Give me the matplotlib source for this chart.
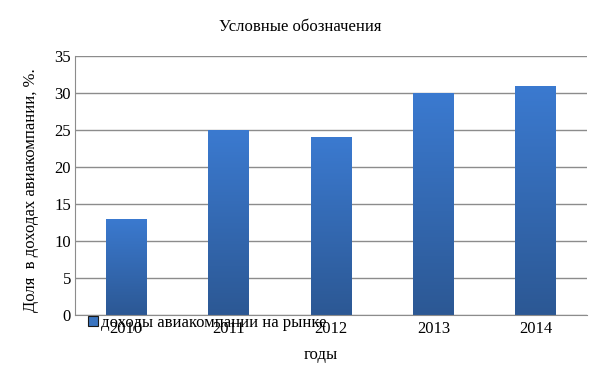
import matplotlib
matplotlib.use("Agg")
import matplotlib.pyplot as plt
import numpy as np
from matplotlib.colors import LinearSegmentedColormap
from matplotlib.patches import Rectangle

years = ["2010", "2011", "2012", "2013", "2014"]
shares = [13, 25, 24, 30, 31]
series_name = "доходы авиакомпании на рынке"

plt.rcParams['font.family'] = ['Liberation Serif', 'DejaVu Serif']
FS = 12

fig = plt.figure(figsize=(6, 3.86), dpi=100)
ax = fig.add_axes([75/600, 1-315/386, 512/600, 259/386])

x = np.arange(len(years))
width = 0.4
bars = ax.bar(x, shares, width, color="#3366aa", zorder=2)

cmap = LinearSegmentedColormap.from_list("g", ["#2c5894", "#3b7ad0"])
grad = np.linspace(0, 1, 256).reshape(-1, 1)
for b in bars:
    b.set_facecolor("none")
    x0, y0 = b.get_x(), b.get_y()
    w, h = b.get_width(), b.get_height()
    im = ax.imshow(grad, cmap=cmap, aspect="auto", origin="lower",
                   extent=[x0, x0 + w, y0, y0 + h], zorder=2)
    im.set_clip_path(b)

ax.set_xlim(-0.5, len(years) - 0.5)
ax.set_ylim(0, 35)
ax.set_yticks(np.arange(0, 36, 5))
ax.set_xticks(x)
ax.set_xticklabels(years)
ax.tick_params(length=0, labelsize=FS, pad=3)
ax.tick_params(axis='x', pad=4)
ax.grid(axis='y', color="#8c8c8c", linewidth=1, zorder=0)
ax.set_axisbelow(True)
for s in ["top", "right"]:
    ax.spines[s].set_visible(False)
for s in ["left", "bottom"]:
    ax.spines[s].set_color("#8c8c8c")

fig.text(300/600, 1-27/386, "Условные обозначения", ha="center", va="center", fontsize=FS)
fig.text(321/600, 1-355/386, "годы", ha="center", va="center", fontsize=FS)
fig.text(31/600, 1-190/386, "Доля  в доходах авиакомпании, %.", rotation=90,
         ha="center", va="center", fontsize=FS)

handle = Rectangle((0, 0), 1, 1, facecolor="#3a74c0", edgecolor="#1a1a1a", linewidth=0.8)
leg = fig.legend([handle], [series_name], loc="center left",
                 bbox_to_anchor=(88/600, 1-323/386), frameon=False, fontsize=FS,
                 handlelength=0.6, handleheight=0.6, handletextpad=0.2, borderpad=0, borderaxespad=0)

fig.savefig("out.png", dpi=100, facecolor="white")
